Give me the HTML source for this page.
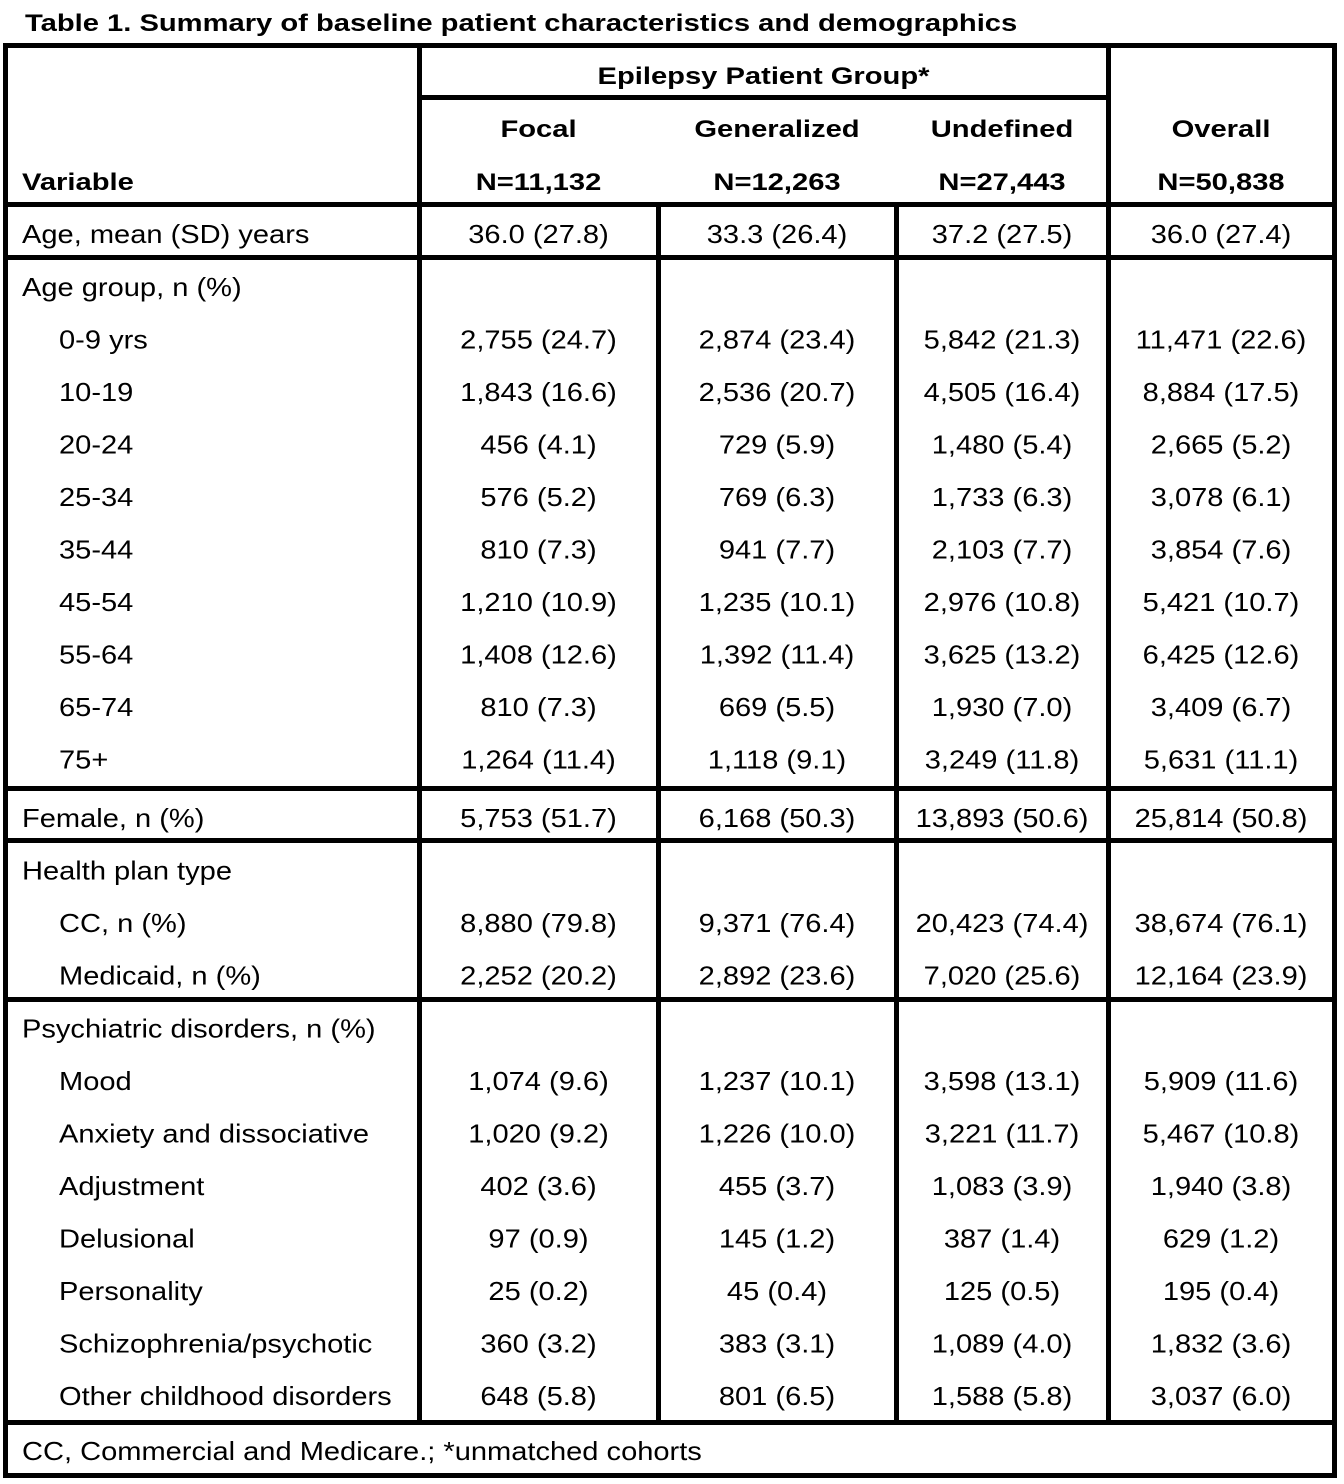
<!DOCTYPE html>
<html>
<head>
<meta charset="utf-8">
<style>
  html, body { margin: 0; padding: 0; background: #ffffff; }
  body { width: 1344px; height: 1484px; overflow: hidden; }
  svg { display: block; }
  text { font-family: "Liberation Sans", Arial, Helvetica, sans-serif; fill: #000; }
  .r { font-size: 25.5px; }
  .b { font-size: 24.3px; font-weight: bold; }
</style>
</head>
<body>
<svg width="1344" height="1484" viewBox="0 0 1344 1484" xmlns="http://www.w3.org/2000/svg">
  <rect x="0" y="0" width="1344" height="1484" fill="#fff"/>

  <!-- Title -->
  <text class="b" style="font-size:24px" transform="translate(25,31) scale(1.215,1)">Table 1. Summary of baseline patient characteristics and demographics</text>

  <!-- Lines -->
  <g fill="#000">
    <!-- horizontal -->
    <rect x="3" y="43" width="1334" height="5"/>
    <rect x="419" y="95" width="689" height="5"/>
    <rect x="3" y="202" width="1334" height="5"/>
    <rect x="3" y="255" width="1334" height="5"/>
    <rect x="3" y="786" width="1334" height="5"/>
    <rect x="3" y="838" width="1334" height="5"/>
    <rect x="3" y="997" width="1334" height="5"/>
    <rect x="3" y="1420" width="1334" height="5"/>
    <rect x="3" y="1473" width="1334" height="5"/>
    <!-- vertical -->
    <rect x="3" y="43" width="5" height="1435"/>
    <rect x="417" y="43" width="5" height="1382"/>
    <rect x="656" y="202" width="5" height="1223"/>
    <rect x="894" y="202" width="5" height="1223"/>
    <rect x="1106" y="43" width="5" height="1382"/>
    <rect x="1332" y="43" width="5" height="1435"/>
  </g>

  <!-- Header -->
  <g class="b" text-anchor="middle">
    <text class="b" transform="translate(763.5,84) scale(1.2,1)">Epilepsy Patient Group*</text>
    <text class="b" transform="translate(538.5,137) scale(1.2,1)">Focal</text>
    <text class="b" transform="translate(777,137) scale(1.2,1)">Generalized</text>
    <text class="b" transform="translate(1002,137) scale(1.2,1)">Undefined</text>
    <text class="b" transform="translate(1221,137) scale(1.2,1)">Overall</text>
    <text class="b" transform="translate(538.5,190) scale(1.2,1)">N=11,132</text>
    <text class="b" transform="translate(777,190) scale(1.2,1)">N=12,263</text>
    <text class="b" transform="translate(1002,190) scale(1.2,1)">N=27,443</text>
    <text class="b" transform="translate(1221,190) scale(1.2,1)">N=50,838</text>
  </g>
  <text class="b" transform="translate(22,190) scale(1.2,1)">Variable</text>

  <!-- Row labels -->
  <g class="r">
    <text class="r" transform="translate(22,243) scale(1.14,1)">Age, mean (SD) years</text>
    <text class="r" transform="translate(22,296) scale(1.14,1)">Age group, n (%)</text>
    <text class="r" transform="translate(59,348.5) scale(1.14,1)">0-9 yrs</text>
    <text class="r" transform="translate(59,401) scale(1.14,1)">10-19</text>
    <text class="r" transform="translate(59,453.5) scale(1.14,1)">20-24</text>
    <text class="r" transform="translate(59,506) scale(1.14,1)">25-34</text>
    <text class="r" transform="translate(59,558.5) scale(1.14,1)">35-44</text>
    <text class="r" transform="translate(59,611) scale(1.14,1)">45-54</text>
    <text class="r" transform="translate(59,663.5) scale(1.14,1)">55-64</text>
    <text class="r" transform="translate(59,716) scale(1.14,1)">65-74</text>
    <text class="r" transform="translate(59,768.5) scale(1.14,1)">75+</text>
    <text class="r" transform="translate(22,827) scale(1.14,1)">Female, n (%)</text>
    <text class="r" transform="translate(22,879.5) scale(1.14,1)">Health plan type</text>
    <text class="r" transform="translate(59,932) scale(1.14,1)">CC, n (%)</text>
    <text class="r" transform="translate(59,984.5) scale(1.14,1)">Medicaid, n (%)</text>
    <text class="r" transform="translate(22,1037.5) scale(1.14,1)">Psychiatric disorders, n (%)</text>
    <text class="r" transform="translate(59,1090) scale(1.14,1)">Mood</text>
    <text class="r" transform="translate(59,1142.5) scale(1.14,1)">Anxiety and dissociative</text>
    <text class="r" transform="translate(59,1195) scale(1.14,1)">Adjustment</text>
    <text class="r" transform="translate(59,1247.5) scale(1.14,1)">Delusional</text>
    <text class="r" transform="translate(59,1300) scale(1.14,1)">Personality</text>
    <text class="r" transform="translate(59,1352.5) scale(1.14,1)">Schizophrenia/psychotic</text>
    <text class="r" transform="translate(59,1405) scale(1.14,1)">Other childhood disorders</text>
    <text class="r" transform="translate(22,1460) scale(1.14,1)">CC, Commercial and Medicare.; *unmatched cohorts</text>
  </g>

  <!-- Data -->
  <g class="r" text-anchor="middle">
    <!-- Age mean -->
    <text class="r" transform="translate(538.5,243) scale(1.14,1)">36.0 (27.8)</text>
    <text class="r" transform="translate(777,243) scale(1.14,1)">33.3 (26.4)</text>
    <text class="r" transform="translate(1002,243) scale(1.14,1)">37.2 (27.5)</text>
    <text class="r" transform="translate(1221,243) scale(1.14,1)">36.0 (27.4)</text>
    <!-- 0-9 -->
    <text class="r" transform="translate(538.5,348.5) scale(1.14,1)">2,755 (24.7)</text>
    <text class="r" transform="translate(777,348.5) scale(1.14,1)">2,874 (23.4)</text>
    <text class="r" transform="translate(1002,348.5) scale(1.14,1)">5,842 (21.3)</text>
    <text class="r" transform="translate(1221,348.5) scale(1.14,1)">11,471 (22.6)</text>
    <!-- 10-19 -->
    <text class="r" transform="translate(538.5,401) scale(1.14,1)">1,843 (16.6)</text>
    <text class="r" transform="translate(777,401) scale(1.14,1)">2,536 (20.7)</text>
    <text class="r" transform="translate(1002,401) scale(1.14,1)">4,505 (16.4)</text>
    <text class="r" transform="translate(1221,401) scale(1.14,1)">8,884 (17.5)</text>
    <!-- 20-24 -->
    <text class="r" transform="translate(538.5,453.5) scale(1.14,1)">456 (4.1)</text>
    <text class="r" transform="translate(777,453.5) scale(1.14,1)">729 (5.9)</text>
    <text class="r" transform="translate(1002,453.5) scale(1.14,1)">1,480 (5.4)</text>
    <text class="r" transform="translate(1221,453.5) scale(1.14,1)">2,665 (5.2)</text>
    <!-- 25-34 -->
    <text class="r" transform="translate(538.5,506) scale(1.14,1)">576 (5.2)</text>
    <text class="r" transform="translate(777,506) scale(1.14,1)">769 (6.3)</text>
    <text class="r" transform="translate(1002,506) scale(1.14,1)">1,733 (6.3)</text>
    <text class="r" transform="translate(1221,506) scale(1.14,1)">3,078 (6.1)</text>
    <!-- 35-44 -->
    <text class="r" transform="translate(538.5,558.5) scale(1.14,1)">810 (7.3)</text>
    <text class="r" transform="translate(777,558.5) scale(1.14,1)">941 (7.7)</text>
    <text class="r" transform="translate(1002,558.5) scale(1.14,1)">2,103 (7.7)</text>
    <text class="r" transform="translate(1221,558.5) scale(1.14,1)">3,854 (7.6)</text>
    <!-- 45-54 -->
    <text class="r" transform="translate(538.5,611) scale(1.14,1)">1,210 (10.9)</text>
    <text class="r" transform="translate(777,611) scale(1.14,1)">1,235 (10.1)</text>
    <text class="r" transform="translate(1002,611) scale(1.14,1)">2,976 (10.8)</text>
    <text class="r" transform="translate(1221,611) scale(1.14,1)">5,421 (10.7)</text>
    <!-- 55-64 -->
    <text class="r" transform="translate(538.5,663.5) scale(1.14,1)">1,408 (12.6)</text>
    <text class="r" transform="translate(777,663.5) scale(1.14,1)">1,392 (11.4)</text>
    <text class="r" transform="translate(1002,663.5) scale(1.14,1)">3,625 (13.2)</text>
    <text class="r" transform="translate(1221,663.5) scale(1.14,1)">6,425 (12.6)</text>
    <!-- 65-74 -->
    <text class="r" transform="translate(538.5,716) scale(1.14,1)">810 (7.3)</text>
    <text class="r" transform="translate(777,716) scale(1.14,1)">669 (5.5)</text>
    <text class="r" transform="translate(1002,716) scale(1.14,1)">1,930 (7.0)</text>
    <text class="r" transform="translate(1221,716) scale(1.14,1)">3,409 (6.7)</text>
    <!-- 75+ -->
    <text class="r" transform="translate(538.5,768.5) scale(1.14,1)">1,264 (11.4)</text>
    <text class="r" transform="translate(777,768.5) scale(1.14,1)">1,118 (9.1)</text>
    <text class="r" transform="translate(1002,768.5) scale(1.14,1)">3,249 (11.8)</text>
    <text class="r" transform="translate(1221,768.5) scale(1.14,1)">5,631 (11.1)</text>
    <!-- Female -->
    <text class="r" transform="translate(538.5,827) scale(1.14,1)">5,753 (51.7)</text>
    <text class="r" transform="translate(777,827) scale(1.14,1)">6,168 (50.3)</text>
    <text class="r" transform="translate(1002,827) scale(1.14,1)">13,893 (50.6)</text>
    <text class="r" transform="translate(1221,827) scale(1.14,1)">25,814 (50.8)</text>
    <!-- CC -->
    <text class="r" transform="translate(538.5,932) scale(1.14,1)">8,880 (79.8)</text>
    <text class="r" transform="translate(777,932) scale(1.14,1)">9,371 (76.4)</text>
    <text class="r" transform="translate(1002,932) scale(1.14,1)">20,423 (74.4)</text>
    <text class="r" transform="translate(1221,932) scale(1.14,1)">38,674 (76.1)</text>
    <!-- Medicaid -->
    <text class="r" transform="translate(538.5,984.5) scale(1.14,1)">2,252 (20.2)</text>
    <text class="r" transform="translate(777,984.5) scale(1.14,1)">2,892 (23.6)</text>
    <text class="r" transform="translate(1002,984.5) scale(1.14,1)">7,020 (25.6)</text>
    <text class="r" transform="translate(1221,984.5) scale(1.14,1)">12,164 (23.9)</text>
    <!-- Mood -->
    <text class="r" transform="translate(538.5,1090) scale(1.14,1)">1,074 (9.6)</text>
    <text class="r" transform="translate(777,1090) scale(1.14,1)">1,237 (10.1)</text>
    <text class="r" transform="translate(1002,1090) scale(1.14,1)">3,598 (13.1)</text>
    <text class="r" transform="translate(1221,1090) scale(1.14,1)">5,909 (11.6)</text>
    <!-- Anxiety -->
    <text class="r" transform="translate(538.5,1142.5) scale(1.14,1)">1,020 (9.2)</text>
    <text class="r" transform="translate(777,1142.5) scale(1.14,1)">1,226 (10.0)</text>
    <text class="r" transform="translate(1002,1142.5) scale(1.14,1)">3,221 (11.7)</text>
    <text class="r" transform="translate(1221,1142.5) scale(1.14,1)">5,467 (10.8)</text>
    <!-- Adjustment -->
    <text class="r" transform="translate(538.5,1195) scale(1.14,1)">402 (3.6)</text>
    <text class="r" transform="translate(777,1195) scale(1.14,1)">455 (3.7)</text>
    <text class="r" transform="translate(1002,1195) scale(1.14,1)">1,083 (3.9)</text>
    <text class="r" transform="translate(1221,1195) scale(1.14,1)">1,940 (3.8)</text>
    <!-- Delusional -->
    <text class="r" transform="translate(538.5,1247.5) scale(1.14,1)">97 (0.9)</text>
    <text class="r" transform="translate(777,1247.5) scale(1.14,1)">145 (1.2)</text>
    <text class="r" transform="translate(1002,1247.5) scale(1.14,1)">387 (1.4)</text>
    <text class="r" transform="translate(1221,1247.5) scale(1.14,1)">629 (1.2)</text>
    <!-- Personality -->
    <text class="r" transform="translate(538.5,1300) scale(1.14,1)">25 (0.2)</text>
    <text class="r" transform="translate(777,1300) scale(1.14,1)">45 (0.4)</text>
    <text class="r" transform="translate(1002,1300) scale(1.14,1)">125 (0.5)</text>
    <text class="r" transform="translate(1221,1300) scale(1.14,1)">195 (0.4)</text>
    <!-- Schizophrenia -->
    <text class="r" transform="translate(538.5,1352.5) scale(1.14,1)">360 (3.2)</text>
    <text class="r" transform="translate(777,1352.5) scale(1.14,1)">383 (3.1)</text>
    <text class="r" transform="translate(1002,1352.5) scale(1.14,1)">1,089 (4.0)</text>
    <text class="r" transform="translate(1221,1352.5) scale(1.14,1)">1,832 (3.6)</text>
    <!-- Other childhood -->
    <text class="r" transform="translate(538.5,1405) scale(1.14,1)">648 (5.8)</text>
    <text class="r" transform="translate(777,1405) scale(1.14,1)">801 (6.5)</text>
    <text class="r" transform="translate(1002,1405) scale(1.14,1)">1,588 (5.8)</text>
    <text class="r" transform="translate(1221,1405) scale(1.14,1)">3,037 (6.0)</text>
  </g>
</svg>
</body>
</html>
